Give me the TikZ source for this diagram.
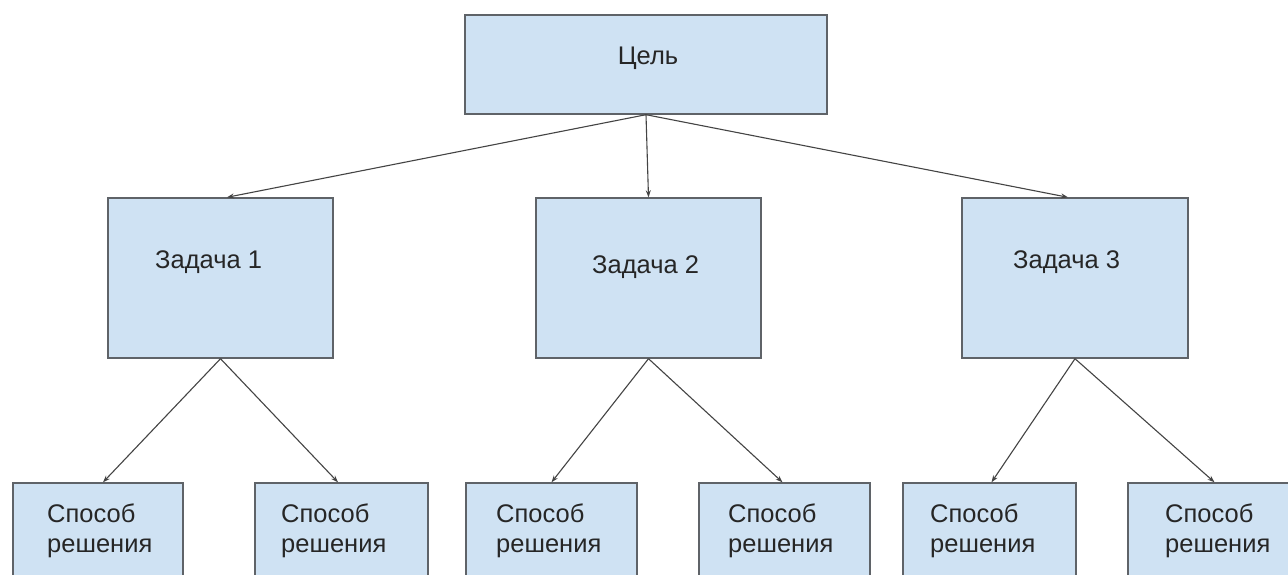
\documentclass[tikz,border=0pt]{standalone}
\usepackage{fontspec}
\setmainfont{Liberation Sans}
\usetikzlibrary{arrows.meta}
\definecolor{boxfill}{HTML}{CFE2F3}
\definecolor{boxline}{HTML}{5F6368}
\definecolor{txt}{HTML}{262626}
\definecolor{arr}{HTML}{444444}
\begin{document}
\begin{tikzpicture}[x=1pt,y=-1pt,
  box/.style={draw=boxline, fill=boxfill, line width=1.4pt, inner sep=0pt},
  lbl/.style={text=txt, font=\fontsize{25.5}{30}\selectfont, inner sep=0pt, anchor=west, align=left},
  link/.style={draw=arr, line width=1.1pt, -{Stealth[length=7pt,width=5pt]}}]
  \fill[white] (0,0) rectangle (1288,575);
  \useasboundingbox (0,0) rectangle (1288,575);
  \clip (0,0) rectangle (1288,575);

  % goal
  \node[box, minimum width=362, minimum height=99] (goal) at (646,64.5) {};
  \node[lbl, anchor=center] (goalt) at (648,58) {Цель};

  % tasks
  \node[box, minimum width=225, minimum height=160] (t1) at (220.5,278) {};
  \node[box, minimum width=225, minimum height=160] (t2) at (648.5,278) {};
  \node[box, minimum width=226, minimum height=160] (t3) at (1075,278) {};
  \node[lbl] (t1t) at (155,262) {Задача 1};
  \node[lbl] (t2t) at (592,267) {Задача 2};
  \node[lbl] (t3t) at (1013,262) {Задача 3};

  % ways of solving
  \node[box, minimum width=170, minimum height=130] (s1) at (98,548) {};
  \node[box, minimum width=173, minimum height=130] (s2) at (341.5,548) {};
  \node[box, minimum width=171, minimum height=130] (s3) at (551.5,548) {};
  \node[box, minimum width=171, minimum height=130] (s4) at (784.5,548) {};
  \node[box, minimum width=173, minimum height=130] (s5) at (989.5,548) {};
  \node[box, minimum width=173, minimum height=130] (s6) at (1214.5,548) {};
  \node[lbl] (s1t) at (47,531) {Способ\\решения};
  \node[lbl] (s2t) at (281,531) {Способ\\решения};
  \node[lbl] (s3t) at (496,531) {Способ\\решения};
  \node[lbl] (s4t) at (728,531) {Способ\\решения};
  \node[lbl] (s5t) at (930,531) {Способ\\решения};
  \node[lbl] (s6t) at (1165,531) {Способ\\решения};

  % connectors
  \draw[link] (goal.south) -- ([xshift=6.5pt]t1.north);
  \draw[link] (goal.south) -- (t2.north);
  \draw[link] (goal.south) -- ([xshift=-7pt]t3.north);

  \draw[link] (t1.south) -- ([xshift=5pt]s1.north);
  \draw[link] (t1.south) -- ([xshift=-3.5pt]s2.north);
  \draw[link] (t2.south) -- (s3.north);
  \draw[link] (t2.south) -- ([xshift=-2pt]s4.north);
  \draw[link] (t3.south) -- ([xshift=2pt]s5.north);
  \draw[link] (t3.south) -- (s6.north);
\end{tikzpicture}
\end{document}
